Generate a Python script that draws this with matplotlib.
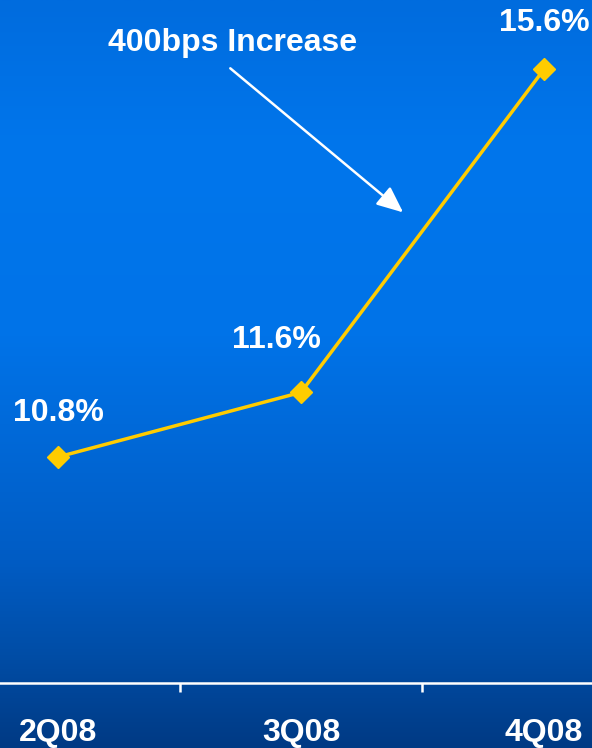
import matplotlib.pyplot as plt
import numpy as np
from matplotlib.colors import LinearSegmentedColormap

quarters = ['2Q08', '3Q08', '4Q08']
margin = [10.8, 11.6, 15.6]
value_labels = ['10.8%', '11.6%', '15.6%']

plt.rcParams['font.family'] = ['Liberation Sans', 'DejaVu Sans']

fig = plt.figure(figsize=(5.92, 7.48), dpi=100)

# blue slide background, darker toward the bottom
bg = fig.add_axes([0, 0, 1, 1], zorder=0)
bg_cmap = LinearSegmentedColormap.from_list('slide', [
    (0.0, (0 / 255, 108 / 255, 222 / 255)),
    (0.2, (0 / 255, 118 / 255, 236 / 255)),
    (0.45, (0 / 255, 115 / 255, 232 / 255)),
    (0.75, (0 / 255, 92 / 255, 196 / 255)),
    (0.87, (0 / 255, 78 / 255, 168 / 255)),
    (1.0, (0 / 255, 58 / 255, 132 / 255)),
])
grad = np.linspace(0, 1, 256).reshape(-1, 1)
bg.imshow(grad, aspect='auto', cmap=bg_cmap, extent=[0, 1, 0, 1], origin='upper')
bg.axis('off')

ax = fig.add_axes([0, 65 / 748, 1, 683 / 748], zorder=1)
ax.patch.set_alpha(0)

x = np.arange(len(quarters))
ax.plot(x, margin, color='#FFCC00', lw=2.5, marker='D', ms=11.5,
        markeredgecolor='#FFCC00', clip_on=False, zorder=3)

ax.set_xlim(-0.239, 2.198)
ax.set_ylim(8.0, 16.46)

# value labels
offsets = [(0, 0.55), (-0.1, 0.65), (0, 0.58)]
for xi, yi, lab, (dx, dy) in zip(x, margin, value_labels, offsets):
    ax.text(xi + dx, yi + dy, lab, color='white', fontsize=23, fontweight='bold',
            ha='center', va='center')

ax.annotate('', xy=(0.681, 0.689), xytext=(0.389, 0.90),
            xycoords='axes fraction', textcoords='axes fraction',
            arrowprops=dict(arrowstyle='-|>,head_length=1.6,head_width=0.7',
                            color='white', lw=1.8, shrinkA=0, shrinkB=0))
ax.text(0.392, 0.937, '400bps Increase', transform=ax.transAxes, color='white',
        fontsize=23, fontweight='bold', ha='center', va='center')

for side in ['top', 'left', 'right']:
    ax.spines[side].set_visible(False)
ax.spines['bottom'].set_color('white')
ax.spines['bottom'].set_linewidth(1.8)
ax.set_yticks([])

ax.set_xticks(x)
ax.set_xticklabels(quarters, fontsize=23, fontweight='bold', color='white')
ax.tick_params(axis='x', which='major', length=0, pad=25.5)
ax.set_xticks([0.5, 1.5], minor=True)
ax.tick_params(axis='x', which='minor', length=6.5, width=1.8, color='white', direction='out')

fig.savefig('out.png', dpi=100)
